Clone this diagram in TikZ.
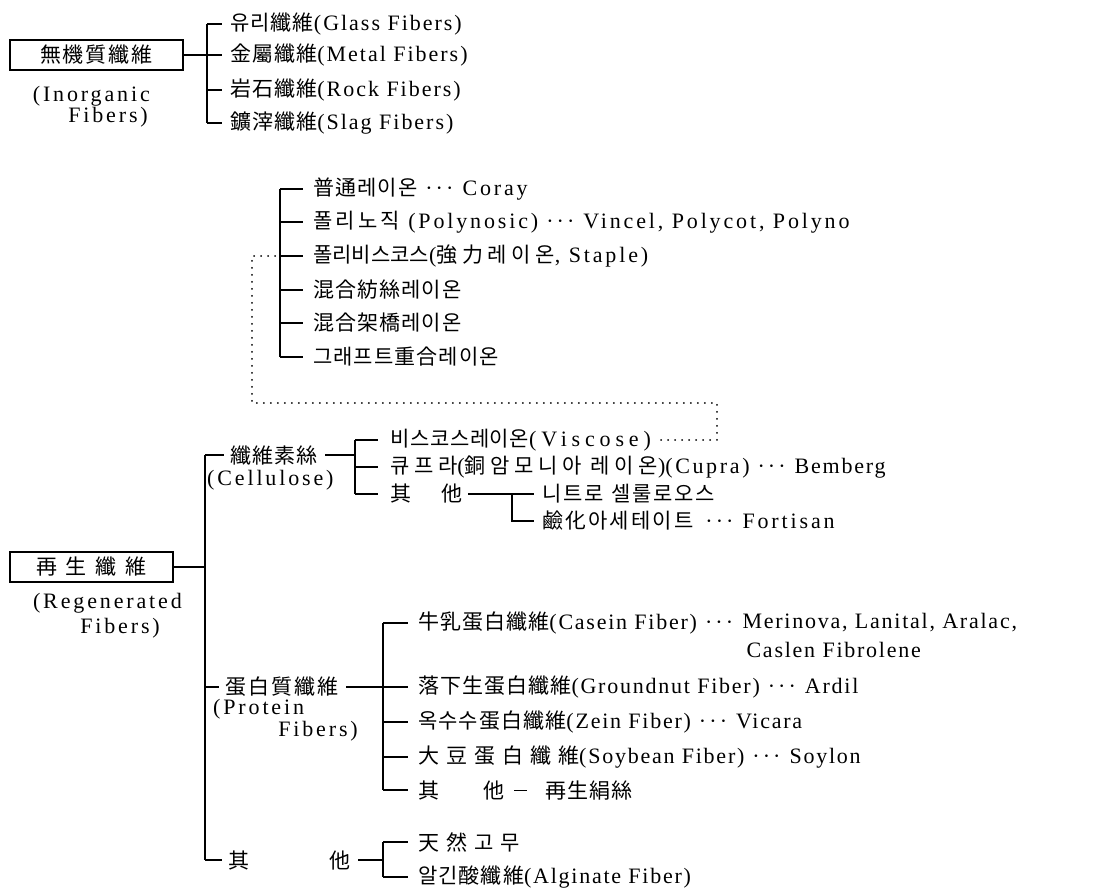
\documentclass[tikz,border=0pt]{standalone}
\usepackage{fontspec}
\setmainfont{Liberation Serif}[LetterSpace=8]
\newfontfamily\widesp{Liberation Serif}[LetterSpace=13]
\newfontfamily\midsp{Liberation Serif}[LetterSpace=9]
\newfontfamily\kr{Noto Sans CJK KR}[LetterSpace=5]
\newcommand\K[1]{{\kr\fontsize{21}{24}\selectfont #1}}
\newcommand\KL[2]{{\kr\fontsize{21}{24}\selectfont\addfontfeature{LetterSpace=#1}#2}}
\newcommand\LS[2]{{\addfontfeature{LetterSpace=#1}#2}}
\newcommand\dd{\hspace{8pt}{\addfontfeature{LetterSpace=14}\textperiodcentered\textperiodcentered\textperiodcentered}\hspace{9pt}}
\begin{document}
\begin{tikzpicture}[x=1pt,y=-1pt,
  every node/.style={inner sep=0pt, font=\fontsize{22}{26}\selectfont},
  ln/.style={line width=1.3pt},
  dotln/.style={line width=1.9pt, line cap=round, dash pattern=on 0pt off 7pt},
  boxnode/.style={draw, line width=1.2pt, minimum height=30pt},
  item/.style={anchor=west},
  witem/.style={anchor=west, font=\fontsize{22}{26}\selectfont\widesp},
  mitem/.style={anchor=west, font=\fontsize{22}{26}\selectfont\midsp}]
\useasboundingbox (0,0) rectangle (1105,891);

% ---------- inorganic ----------
\node[boxnode, minimum width=173pt] (b1) at (96.5,55) {\K{無\hspace{2pt}機\hspace{2pt}質\hspace{2pt}纖\hspace{2pt}維}};
\node[witem, anchor=east] (b1a) at (150,96) {(Inorganic};
\node[witem, anchor=east] (b1b) at (148,117) {Fibers)};
\coordinate (t1) at (207,0);
\node[mitem] (g1) at (230,24) {\K{유리纖維}(Glass Fibers)};
\node[mitem] (g2) at (230,55) {\K{金屬纖維}(Metal Fibers)};
\node[mitem] (g3) at (230,90) {\K{岩石纖維}(Rock Fibers)};
\node[mitem] (g4) at (230,123) {\K{鑛滓纖維}(Slag Fibers)};
\draw[ln] (b1.east) -- (t1 |- b1.east);
\draw[ln] (t1 |- g1.west) -- (t1 |- g4.west);
\foreach \n in {g1,g2,g3,g4} \draw[ln] (t1 |- \n.west) -- ([xshift=-8pt]\n.west);

% ---------- rayon types ----------
\coordinate (t2) at (280,0);
\node[witem] (r1) at (313,189) {\K{普通레이온}\dd Coray};
\node[witem] (r2) at (313,222) {\KL{15}{폴리노직} (Polynosic)\dd Vincel, Polycot, Polyno};
\node[witem] (r3) at (313,256) {\KL{0}{폴리비스코스}(\KL{22}{強力레이온}, Staple)};
\node[witem] (r4) at (313,290) {\K{混合紡絲레이온}};
\node[witem] (r5) at (313,323) {\K{混合架橋레이온}};
\node[witem] (r6) at (313,357) {\K{그래프트重合레이온}};
\draw[ln] (t2 |- r1.west) -- (t2 |- r6.west);
\foreach \n in {r1,r2,r3,r4,r5,r6} \draw[ln] (t2 |- \n.west) -- ([xshift=-10pt]\n.west);

% ---------- cellulose ----------
\coordinate (t3) at (205,0);
\coordinate (t4) at (355,0);
\coordinate (t5) at (512,0);
\node[item] (cel) at (230,455) {\K{纖\hspace{1pt}維\hspace{1pt}素\hspace{1pt}絲}};
\node[witem] (cell) at (207,480) {(Cellulose)};
\node[item] (v1) at (390,440) {\KL{3}{비스코스레이온}\LS{22}{(Viscose)}};
\node[item] (v2) at (390,467) {\KL{22}{큐프라}(\KL{22}{銅암모니아 레이온})\LS{12}{(Cupra)}\dd Bemberg};
\node[item] (v3) at (390,494) {\K{其}\hspace{30pt}\K{他}};
\node[item] (n1) at (542,494) {\KL{8}{니트로}\hspace{8pt}\KL{8}{셀룰로오스}};
\node[witem] (n2) at (542,521) {\KL{10}{鹼化아세테이트}\hspace{4pt}\dd Fortisan};
\draw[ln] ([xshift=8pt]cel.east) -- (t4 |- cel.east);
\draw[ln] (t4 |- v1.west) -- (t4 |- v3.west);
\foreach \n in {v1,v2,v3} \draw[ln] (t4 |- \n.west) -- ([xshift=-12pt]\n.west);
\draw[ln] ([xshift=6pt]v3.east) -- ([xshift=-8pt]n1.west);
\draw[ln] (t5 |- n1.west) -- (t5 |- n2.west) -- ([xshift=-8pt]n2.west);

% dotted link
\coordinate (d1) at (252,256);
\coordinate (d2) at (252,403);
\coordinate (d3) at (717,403);
\coordinate (d4) at (717,440);
\draw[dotln] ([xshift=10pt]v1.east) -- (d4) -- (d3) -- (d2) -- (d1) -- (t2 |- r3.west);

% ---------- regenerated ----------
\node[boxnode, minimum width=163pt] (b2) at (91.5,567) {\K{再\hspace{9pt}生\hspace{9pt}纖\hspace{9pt}維}};
\node[witem, anchor=east] (b2a) at (182,603) {(Regenerated};
\node[witem, anchor=east] (b2b) at (160,628) {Fibers)};
\draw[ln] (b2.east) -- (t3 |- b2.east);

% ---------- protein ----------
\coordinate (t6) at (383,0);
\node[item] (pro) at (225,687) {\K{蛋\hspace{2pt}白\hspace{2pt}質\hspace{2pt}纖\hspace{2pt}維}};
\node[witem] (proa) at (213,709) {(Protein};
\node[witem, anchor=east] (prob) at (358,731) {Fibers)};
\node[item] (c1) at (418,623) {\K{牛乳蛋白纖維}(Casein Fiber)\dd};
\node[item] (c1m) at ([xshift=9pt]c1.east) {Merinova, Lanital, Aralac,};
\node[item] (c1c) at ([xshift=4pt,yshift=-27pt]c1m.west) {Caslen Fibrolene};
\node[item] (p2) at (418,687) {\K{落下生蛋白纖維}(Groundnut Fiber)\dd Ardil};
\node[item] (p3) at (418,722) {\K{옥수수蛋白纖維}(Zein Fiber)\dd Vicara};
\node[item] (p4) at (418,757) {\K{大\hspace{7pt}豆\hspace{7pt}蛋\hspace{7pt}白\hspace{7pt}纖\hspace{7pt}維}(Soybean Fiber)\dd Soylon};
\node[item] (p5) at (418,790) {\K{其}\hspace{44pt}\K{他}\hspace{10pt}\rule[0.3em]{13pt}{1.3pt}\hspace{18pt}\K{再生絹絲}};
\draw[ln] ([xshift=8pt]pro.east) -- (t6 |- pro.east);
\draw[ln] (t6 |- c1.west) -- (t6 |- p5.west);
\foreach \n in {c1,p2,p3,p4,p5} \draw[ln] (t6 |- \n.west) -- ([xshift=-10pt]\n.west);

% ---------- others ----------
\node[item] (oth) at (228,860) {\K{其}\hspace{80pt}\K{他}};
\node[item] (o1) at (418,842) {\K{天\hspace{7pt}然\hspace{7pt}고\hspace{7pt}무}};
\node[item] (o2) at (418,877) {\K{알긴酸纖維}(Alginate Fiber)};
\draw[ln] ([xshift=8pt]oth.east) -- (t6 |- oth.east);
\draw[ln] (t6 |- o1.west) -- (t6 |- o2.west);
\foreach \n in {o1,o2} \draw[ln] (t6 |- \n.west) -- ([xshift=-10pt]\n.west);

% main trunk
\draw[ln] (t3 |- cel.west) -- (t3 |- oth.west);
\foreach \n in {cel,pro,oth} \draw[ln] (t3 |- \n.west) -- ([xshift=-6pt]\n.west);
\end{tikzpicture}
\end{document}
